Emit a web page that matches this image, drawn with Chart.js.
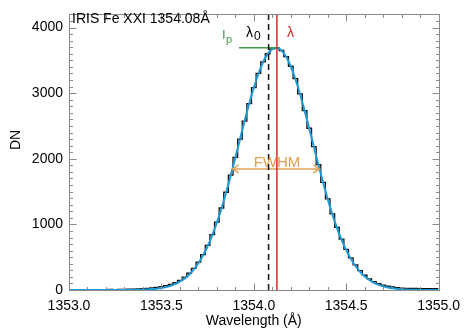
<!DOCTYPE html>
<html>
<head>
<meta charset="utf-8">
<script src="https://cdn.jsdelivr.net/npm/chart.js@4.4.1/dist/chart.umd.min.js"></script>
<style>
  html, body { margin: 0; padding: 0; background: #fff; }
  #wrap { width: 468px; height: 330px; }
</style>
</head>
<body>
<div id="wrap"><canvas id="graph" width="468" height="330"></canvas></div>
<script>
// wavelength grid of the spectrum (Angstrom)
const wave = [
  1353.000, 1353.025, 1353.050, 1353.075, 1353.100, 1353.125, 1353.150, 1353.175, 1353.200, 1353.225,
  1353.250, 1353.275, 1353.300, 1353.325, 1353.350, 1353.375, 1353.400, 1353.425, 1353.450, 1353.475,
  1353.500, 1353.525, 1353.550, 1353.575, 1353.600, 1353.625, 1353.650, 1353.675, 1353.700, 1353.725,
  1353.750, 1353.775, 1353.800, 1353.825, 1353.850, 1353.875, 1353.900, 1353.925, 1353.950, 1353.975,
  1354.000, 1354.025, 1354.050, 1354.075, 1354.100, 1354.125, 1354.150, 1354.175, 1354.200, 1354.225,
  1354.250, 1354.275, 1354.300, 1354.325, 1354.350, 1354.375, 1354.400, 1354.425, 1354.450, 1354.475,
  1354.500, 1354.525, 1354.550, 1354.575, 1354.600, 1354.625, 1354.650, 1354.675, 1354.700, 1354.725,
  1354.750, 1354.775, 1354.800, 1354.825, 1354.850, 1354.875, 1354.900, 1354.925, 1354.950, 1354.975,
  1355.000
];
// observed counts (black histogram)
const counts = [
  5, 4, 6, 5, 4, 6, 5, 7, 6, 8,
  7, 9, 10, 12, 14, 17, 22, 26, 32, 40,
  52, 66, 86, 112, 148, 196, 255, 330, 425, 540,
  680, 845, 1035, 1250, 1490, 1750, 2020, 2300, 2575, 2840,
  3085, 3300, 3475, 3600, 3675, 3690, 3650, 3555, 3410, 3220,
  2990, 2735, 2465, 2185, 1910, 1640, 1390, 1160, 955, 775,
  620, 490, 382, 295, 225, 170, 128, 97, 74, 57,
  46, 36, 30, 26, 24, 23, 22, 22, 22, 22,
  22
];
// gaussian fit (cyan)
const fit = [
  0, 0, 0, 0, 0, 0, 0, 0, 0, 0,
  0, 0, 1, 1, 2, 4, 6, 9, 14, 20,
  30, 44, 64, 90, 126, 173, 233, 310, 407, 525,
  667, 834, 1026, 1243, 1483, 1743, 2015, 2295, 2572, 2837,
  3082, 3296, 3471, 3598, 3672, 3690, 3649, 3553, 3406, 3215,
  2987, 2733, 2461, 2182, 1905, 1637, 1385, 1153, 946, 763,
  607, 475, 366, 278, 207, 152, 110, 79, 55, 38,
  26, 17, 11, 7, 5, 3, 2, 1, 1, 0,
  0
];

const xTicks = [1353.0, 1353.5, 1354.0, 1354.5, 1355.0];
const yTicks = [0, 1000, 2000, 3000, 4000];

const lambda0 = 1354.08;     // rest wavelength (dashed)
const lambdaFit = 1354.125;  // fitted centre (red)
const peakDN = 3690;
const peakFrom = 1353.92;
const fwhmLeft = 1353.885;
const fwhmRight = 1354.355;
const halfMax = 1845;

const xMin = 1353.0, xMax = 1355.0;
const yMin = 0, yMax = 4200;

const cyan = '#1E9BD7';
const red = '#D42A2A';
const green = '#3C9E46';
const orange = '#E0A050';
const axisGray = '#8a8a8a';
const font = "'Liberation Sans', Arial, sans-serif";

const pts = (xs, ys) => xs.map((x, i) => ({ x: x, y: ys[i] }));

// box, inward ticks and annotations in IDL style
const frame = {
  id: 'frame',
  afterDraw(chart) {
    const c = chart.ctx;
    const xs = chart.scales.x, ys = chart.scales.y;
    const a = chart.chartArea;
    const L = Math.round(a.left) + 0.5, R = Math.round(a.right) + 0.5;
    const T = Math.round(a.top) + 0.5, B = Math.round(a.bottom) + 0.5;
    c.save();
    c.strokeStyle = axisGray;
    c.lineWidth = 1;
    c.strokeRect(L, T, R - L, B - T);
    c.beginPath();
    for (let i = 0; i <= 20; i++) {
      const v = xMin + i * 0.1;
      const p = Math.round(xs.getPixelForValue(v)) + 0.5;
      const len = i % 5 === 0 ? 7 : 3.5;
      c.moveTo(p, B); c.lineTo(p, B - len);
      c.moveTo(p, T); c.lineTo(p, T + len);
    }
    for (let i = 0; i <= 42; i++) {
      const v = i * 100;
      const p = Math.round(ys.getPixelForValue(v)) + 0.5;
      const len = i % 10 === 0 ? 7 : 3.5;
      c.moveTo(L, p); c.lineTo(L + len, p);
      c.moveTo(R, p); c.lineTo(R - len, p);
    }
    c.stroke();

    // FWHM arrow heads
    const fy = ys.getPixelForValue(halfMax);
    const fl = xs.getPixelForValue(fwhmLeft), fr = xs.getPixelForValue(fwhmRight);
    c.strokeStyle = orange;
    c.lineWidth = 1.5;
    c.beginPath();
    c.moveTo(fl + 6, fy - 4); c.lineTo(fl, fy); c.lineTo(fl + 6, fy + 4);
    c.moveTo(fr - 6, fy - 4); c.lineTo(fr, fy); c.lineTo(fr - 6, fy + 4);
    c.stroke();

    // texts
    c.textBaseline = 'alphabetic';
    c.fillStyle = '#000';
    c.font = '14px ' + font;
    c.textAlign = 'left';
    c.fillText('IRIS Fe XXI 1354.08\u00C5', 72, 23);

    c.fillStyle = orange;
    c.font = '15px ' + font;
    c.textAlign = 'center';
    c.fillText('FWHM', (fl + fr) / 2 + 1, fy - 2);

    c.textAlign = 'left';
    c.fillStyle = '#000';
    c.font = '14px ' + font;
    c.fillText('\u03BB', 246, 37);
    c.font = '12px ' + font;
    c.fillText('0', 254, 40);

    c.fillStyle = red;
    c.font = '14px ' + font;
    c.fillText('\u03BB', 287, 37);

    c.fillStyle = green;
    c.font = '13px ' + font;
    c.fillText('I', 222, 39);
    c.font = '11px ' + font;
    c.fillText('p', 226, 43);

    // y axis title
    c.fillStyle = '#000';
    c.font = '14px ' + font;
    c.translate(16, 140);
    c.rotate(-Math.PI / 2);
    c.textAlign = 'center';
    c.textBaseline = 'middle';
    c.fillText('DN', 0, 0);
    c.restore();
  }
};

const chart = new Chart(document.getElementById('graph').getContext('2d'), {
  type: 'line',
  data: {
    datasets: [
      { label: 'fit', data: pts(wave, fit), borderColor: cyan, borderWidth: 2,
        pointRadius: 0, cubicInterpolationMode: 'monotone', order: 1 },
      { label: 'counts', data: pts(wave, counts), borderColor: '#111', borderWidth: 1.3,
        pointRadius: 0, stepped: 'middle', order: 2 },
      { label: 'lambda0', data: [{ x: lambda0, y: yMin }, { x: lambda0, y: yMax }],
        borderColor: '#111', borderWidth: 1.5, borderDash: [6, 4], pointRadius: 0, order: 0 },
      { label: 'lambda', data: [{ x: lambdaFit, y: yMin }, { x: lambdaFit, y: yMax }],
        borderColor: red, borderWidth: 1.5, pointRadius: 0, order: 0 },
      { label: 'Ip', data: [{ x: peakFrom, y: peakDN }, { x: lambdaFit, y: peakDN }],
        borderColor: green, borderWidth: 1.5, pointRadius: 0, order: 0 },
      { label: 'FWHM', data: [{ x: fwhmLeft, y: halfMax }, { x: fwhmRight, y: halfMax }],
        borderColor: orange, borderWidth: 1.5, pointRadius: 0, order: 0 }
    ]
  },
  options: {
    responsive: false,
    animation: false,
    devicePixelRatio: 1,
    layout: { padding: { left: 0, right: 24, top: 9, bottom: 0 } },
    plugins: { legend: { display: false }, tooltip: { enabled: false } },
    scales: {
      x: {
        type: 'linear', min: xMin, max: xMax,
        grid: { display: false, drawTicks: false },
        border: { display: false },
        ticks: { padding: 8, color: '#000', font: { size: 14, family: font },
                 maxRotation: 0, autoSkip: false, callback: v => v.toFixed(1) },
        afterBuildTicks: s => { s.ticks = xTicks.map(v => ({ value: v })); },
        title: { display: true, text: 'Wavelength (\u00C5)', color: '#000',
                 font: { size: 14, family: font }, padding: 0 },
        afterFit: s => { s.height = 40; }
      },
      y: {
        type: 'linear', min: yMin, max: yMax,
        grid: { display: false, drawTicks: false },
        border: { display: false },
        ticks: { padding: 6, color: '#000', autoSkip: false, font: { size: 14, family: font },
                 callback: v => String(v) },
        afterBuildTicks: s => { s.ticks = yTicks.map(v => ({ value: v })); },
        afterFit: s => { s.width = 69; }
      }
    }
  },
  plugins: [frame]
});
</script>
</body>
</html>
